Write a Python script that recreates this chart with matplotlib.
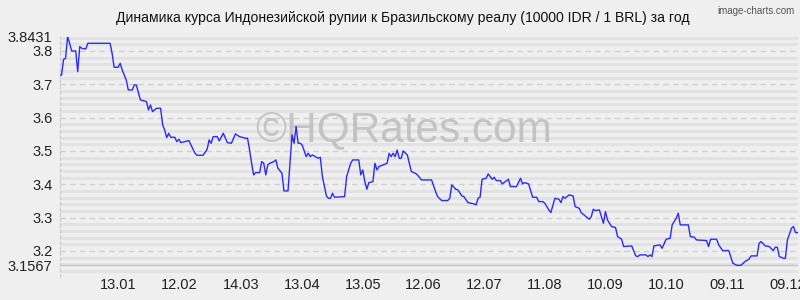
import matplotlib
matplotlib.use("Agg")
import matplotlib.pyplot as plt
import matplotlib.ticker as mticker
import pandas as pd
import numpy as np

plt.rcParams['font.family'] = ['Liberation Sans', 'DejaVu Sans']
plt.rcParams['lines.scale_dashes'] = False

title = "Динамика курса Индонезийской рупии к Бразильскому реалу (10000 IDR / 1 BRL) за год"
start_date = "2011-12-15"
end_date = "2012-12-14"

days = [0, 1, 2, 3, 4, 5, 6, 8, 9, 10, 11, 13, 14, 25, 26, 27, 29, 30, 31, 33, 34, 36, 37, 38,
        40, 42, 43, 44, 45, 46, 48, 50, 51, 52, 53, 54, 55, 57, 58, 59, 60, 62, 64, 65, 67, 68,
        71, 73, 74, 75, 76, 78, 79, 81, 83, 85, 87, 89, 92, 93, 94, 95, 96, 97, 99, 100, 101,
        102, 103, 104, 106, 107, 108, 110, 111, 113, 115, 116, 117, 118, 119, 120, 122, 123,
        124, 125, 128, 129, 130, 132, 133, 134, 135, 136, 141, 142, 144, 145, 148, 149, 150,
        151, 152, 153, 155, 156, 157, 158, 160, 162, 163, 164, 165, 166, 167, 168, 169, 170,
        172, 174, 176, 177, 179, 184, 186, 187, 189, 192, 193, 194, 196, 197, 199, 200, 202,
        205, 206, 207, 208, 209, 211, 212, 214, 215, 216, 218, 219, 222, 223, 226, 228, 229,
        230, 232, 234, 236, 237, 239, 240, 242, 243, 245, 247, 248, 249, 250, 252, 254, 255,
        257, 258, 262, 263, 264, 265, 267, 268, 269, 270, 271, 273, 275, 276, 278, 279, 283,
        285, 286, 287, 290, 291, 292, 293, 294, 297, 298, 299, 300, 302, 303, 305, 306, 307,
        311, 312, 314, 315, 320, 321, 322, 325, 326, 328, 331, 333, 335, 337, 339, 341, 342,
        345, 346, 347, 349, 351, 353, 354, 355, 356, 358, 359, 360, 362, 363, 364, 365]

rates = [3.728, 3.728, 3.775, 3.778, 3.8431, 3.823, 3.800, 3.800, 3.738, 3.813, 3.808, 3.806,
         3.823, 3.823, 3.793, 3.751, 3.751, 3.763, 3.743, 3.713, 3.683, 3.683, 3.698, 3.698,
         3.653, 3.650, 3.648, 3.623, 3.638, 3.618, 3.628, 3.628, 3.578, 3.563, 3.540, 3.553,
         3.541, 3.541, 3.528, 3.535, 3.525, 3.528, 3.531, 3.518, 3.493, 3.487, 3.487, 3.505,
         3.533, 3.523, 3.543, 3.543, 3.530, 3.553, 3.525, 3.523, 3.551, 3.543, 3.538, 3.538,
         3.503, 3.463, 3.428, 3.435, 3.435, 3.468, 3.463, 3.428, 3.458, 3.463, 3.468, 3.473,
         3.448, 3.433, 3.380, 3.380, 3.548, 3.523, 3.573, 3.523, 3.523, 3.518, 3.483, 3.493,
         3.483, 3.488, 3.478, 3.481, 3.423, 3.365, 3.358, 3.358, 3.373, 3.361, 3.363, 3.423,
         3.463, 3.473, 3.473, 3.428, 3.443, 3.408, 3.385, 3.405, 3.408, 3.463, 3.443, 3.453,
         3.458, 3.463, 3.493, 3.483, 3.493, 3.483, 3.503, 3.478, 3.478, 3.500, 3.488, 3.438,
         3.433, 3.428, 3.413, 3.413, 3.378, 3.363, 3.351, 3.351, 3.358, 3.398, 3.385, 3.383,
         3.365, 3.363, 3.345, 3.341, 3.338, 3.358, 3.361, 3.415, 3.418, 3.431, 3.415, 3.421,
         3.411, 3.411, 3.401, 3.415, 3.393, 3.393, 3.418, 3.401, 3.405, 3.401, 3.361, 3.361,
         3.348, 3.348, 3.343, 3.323, 3.315, 3.358, 3.355, 3.345, 3.363, 3.358, 3.368, 3.365,
         3.333, 3.328, 3.315, 3.295, 3.303, 3.325, 3.321, 3.323, 3.303, 3.283, 3.318, 3.293,
         3.273, 3.270, 3.243, 3.235, 3.213, 3.215, 3.185, 3.183, 3.188, 3.188, 3.183, 3.188,
         3.183, 3.215, 3.218, 3.208, 3.221, 3.235, 3.238, 3.278, 3.298, 3.313, 3.278, 3.278,
         3.243, 3.241, 3.233, 3.231, 3.213, 3.235, 3.235, 3.218, 3.201, 3.201, 3.163, 3.1567,
         3.1567, 3.168, 3.175, 3.185, 3.185, 3.223, 3.228, 3.215, 3.213, 3.201, 3.211, 3.211,
         3.183, 3.178, 3.178, 3.233, 3.268, 3.273, 3.255, 3.255]

x_tick_dates = ["2012-01-13", "2012-02-12", "2012-03-14", "2012-04-13", "2012-05-13",
                "2012-06-12", "2012-07-12", "2012-08-11", "2012-09-10", "2012-10-10",
                "2012-11-09", "2012-12-09"]
x_tick_labels = ["13.01", "12.02", "14.03", "13.04", "13.05", "12.06", "12.07", "11.08",
                 "10.09", "10.10", "09.11", "09.12"]
y_ticks = [3.1567, 3.2, 3.3, 3.4, 3.5, 3.6, 3.7, 3.8, 3.8431]
y_tick_labels = ["3.1567", "3.2", "3.3", "3.4", "3.5", "3.6", "3.7", "3.8", "3.8431"]
y_min, y_max = 3.1567, 3.8431

dates = pd.Timestamp(start_date) + pd.to_timedelta(days, unit="D")

bg = "#efefef"
fig = plt.figure(figsize=(8, 3), dpi=100, facecolor=bg)
ax = fig.add_axes([0.0744, 0.0767, 0.9225, 0.8013])
ax.set_facecolor(bg)

# watermark
ax.text(0.466, 0.61, "©HQRates.com", transform=ax.transAxes, ha="center", va="center",
        fontsize=30.5, color="#bdbdbd", alpha=0.85, zorder=1)

ax.plot(dates, rates, color="#2a2aff", lw=1.0, zorder=3)

ax.set_xlim(pd.Timestamp(start_date), pd.Timestamp(end_date))
ax.set_ylim(y_min - 0.035, y_max)

ax.set_xticks(pd.to_datetime(x_tick_dates))
ax.set_xticklabels(x_tick_labels)
ax.set_yticks(y_ticks)
ax.set_yticklabels(y_tick_labels)
ax.yaxis.set_minor_locator(mticker.MultipleLocator(0.02))

ax.tick_params(axis="both", which="both", length=0)
ax.tick_params(axis="y", pad=5, labelsize=10.5, labelcolor="#222222")
ax.tick_params(axis="x", pad=0.5, labelsize=10.5, labelcolor="#222222")

# minor hatch rows
for yv in ax.yaxis.get_minorticklocs():
    ax.axhline(yv, color="#d6d6d6", lw=2.2, ls=(0, (0.72, 0.72)), zorder=0)
# major grid
for yv in y_ticks:
    if yv in (y_min, y_max):
        continue
    ax.axhline(yv, color="#cfcfcf", lw=1.0, ls=(0, (4, 3)), zorder=0.5)
ax.axhline(y_min, color="#c4c4c4", lw=1.0, zorder=0.5)

for s in ["top", "right", "bottom"]:
    ax.spines[s].set_visible(False)
ax.spines["left"].set_color("#c8c8c8")
ax.spines["left"].set_linestyle((0, (2, 2)))

fig.text(0.503, 0.94, title, ha="center", va="center", fontsize=10.1, color="#111111")
fig.text(0.993, 0.965, "image-charts.com", ha="right", va="center", fontsize=7, color="#555555")

fig.savefig("out.png", dpi=100, facecolor=bg)
